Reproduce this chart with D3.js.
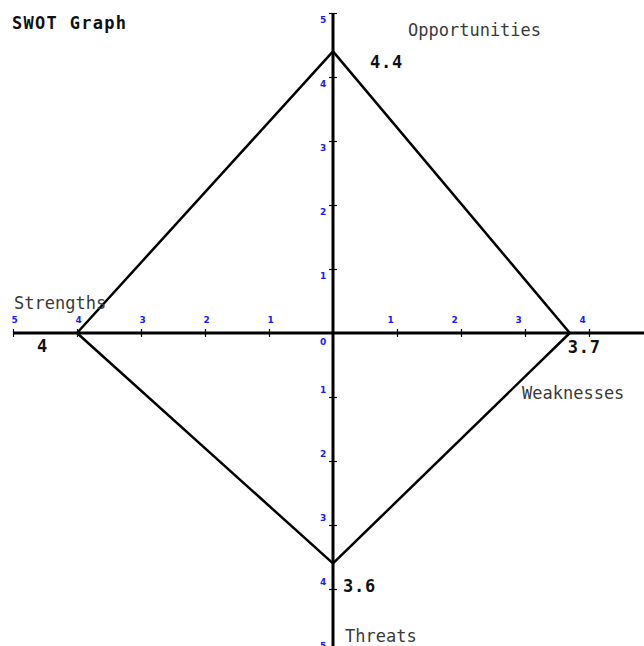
<!DOCTYPE html>
<html>
<head>
<meta charset="utf-8">
<script src="https://cdn.jsdelivr.net/npm/d3@7"></script>
<style>
  body { margin: 0; background: #fff; }
  text { font-family: "DejaVu Sans Mono", "Liberation Mono", monospace; }
</style>
</head>
<body>
<script>
const categories = ['Strengths', 'Weaknesses', 'Opportunities', 'Threats'];
const values = [4, 3.7, 4.4, 3.6];
const tickValues = [-5, -4, -3, -2, -1, 1, 2, 3, 4, 5];

const width = 644;
const height = 646;
const cx = 333;
const cy = 333;
const unit = 64;

const x = d3.scaleLinear().domain([-5, 5]).range([cx - 5 * unit, cx + 5 * unit]);
const y = d3.scaleLinear().domain([-5, 5]).range([cy + 5 * unit, cy - 5 * unit]);

const svg = d3.select('body')
  .append('svg')
  .attr('width', width)
  .attr('height', height);

// each quadrant name points one way
const dir = {
  Strengths: [-1, 0],
  Weaknesses: [1, 0],
  Opportunities: [0, 1],
  Threats: [0, -1]
};
const points = categories.map((c, i) => ({
  name: c,
  value: values[i],
  px: x(dir[c][0] * values[i]),
  py: y(dir[c][1] * values[i])
}));

// axis lines
svg.append('line')
  .attr('x1', x(-5)).attr('x2', width)
  .attr('y1', y(0)).attr('y2', y(0))
  .attr('stroke', '#000').attr('stroke-width', 3);
svg.append('line')
  .attr('x1', x(0)).attr('x2', x(0))
  .attr('y1', y(5)).attr('y2', height)
  .attr('stroke', '#000').attr('stroke-width', 3);

// tick marks from d3 axes, domain path hidden
const xAxis = svg.append('g')
  .attr('transform', `translate(0, ${y(0) - 4})`)
  .call(d3.axisBottom(x).tickValues(tickValues).tickSize(8).tickFormat(d => Math.abs(d)));
xAxis.select('.domain').remove();
xAxis.selectAll('.tick line').attr('stroke', '#000').attr('stroke-width', 1.2);
xAxis.selectAll('.tick text')
  .attr('y', -6)
  .attr('dy', 0)
  .attr('x', d => d < 0 ? 1 : -7)
  .attr('fill', '#1a1aff')
  .style('font-size', '9px')
  .style('font-weight', 'bold')
  .style('font-family', 'DejaVu Sans, sans-serif');

const yAxis = svg.append('g')
  .attr('transform', `translate(${x(0) - 4}, 0)`)
  .call(d3.axisRight(y).tickValues(tickValues).tickSize(8).tickFormat(d => Math.abs(d)));
yAxis.select('.domain').remove();
yAxis.selectAll('.tick line').attr('stroke', '#000').attr('stroke-width', 1.2);
yAxis.selectAll('.tick text')
  .attr('x', -6)
  .attr('dy', d => d > 0 ? 9 : -5)
  .attr('text-anchor', 'middle')
  .attr('fill', '#1a1aff')
  .style('font-size', '9px')
  .style('font-weight', 'bold')
  .style('font-family', 'DejaVu Sans, sans-serif');

svg.append('text')
  .attr('x', x(0) - 13)
  .attr('y', y(0) + 12)
  .attr('fill', '#1a1aff')
  .style('font-size', '9px')
  .style('font-weight', 'bold')
  .style('font-family', 'DejaVu Sans, sans-serif')
  .text('0');

// the SWOT shape
const order = ['Opportunities', 'Weaknesses', 'Threats', 'Strengths'];
const shape = order.map(n => points.find(p => p.name === n));
svg.append('path')
  .attr('d', d3.line().x(d => d.px).y(d => d.py).curve(d3.curveLinearClosed)(shape))
  .attr('fill', 'none')
  .attr('stroke', '#000')
  .attr('stroke-width', 2.5)
  .attr('stroke-linejoin', 'round');

// value labels
const valueOffset = {
  Strengths: [-40, 19],
  Weaknesses: [-2, 20],
  Opportunities: [37, 17],
  Threats: [10, 29]
};
svg.selectAll('.val').data(points)
  .enter()
  .append('text')
  .attr('class', 'val')
  .attr('x', d => d.px + valueOffset[d.name][0])
  .attr('y', d => d.py + valueOffset[d.name][1])
  .attr('fill', '#111')
  .style('font-size', '17px')
  .style('font-weight', 'bold')
  .style('letter-spacing', '0.8px')
  .text(d => d.value);

// quadrant names
const namePos = {
  Strengths: [14, 309],
  Weaknesses: [522, 399],
  Opportunities: [408, 36],
  Threats: [345, 642]
};
svg.selectAll('.name').data(categories)
  .enter()
  .append('text')
  .attr('class', 'name')
  .attr('x', d => namePos[d][0])
  .attr('y', d => namePos[d][1])
  .attr('fill', '#3a3a3a')
  .style('font-size', '17px')
  .text(d => d);

svg.append('text')
  .attr('x', 12)
  .attr('y', 29)
  .attr('fill', '#111')
  .style('font-size', '17px')
  .style('font-weight', 'bold')
  .style('letter-spacing', '1.3px')
  .text('SWOT Graph');
</script>
</body>
</html>
